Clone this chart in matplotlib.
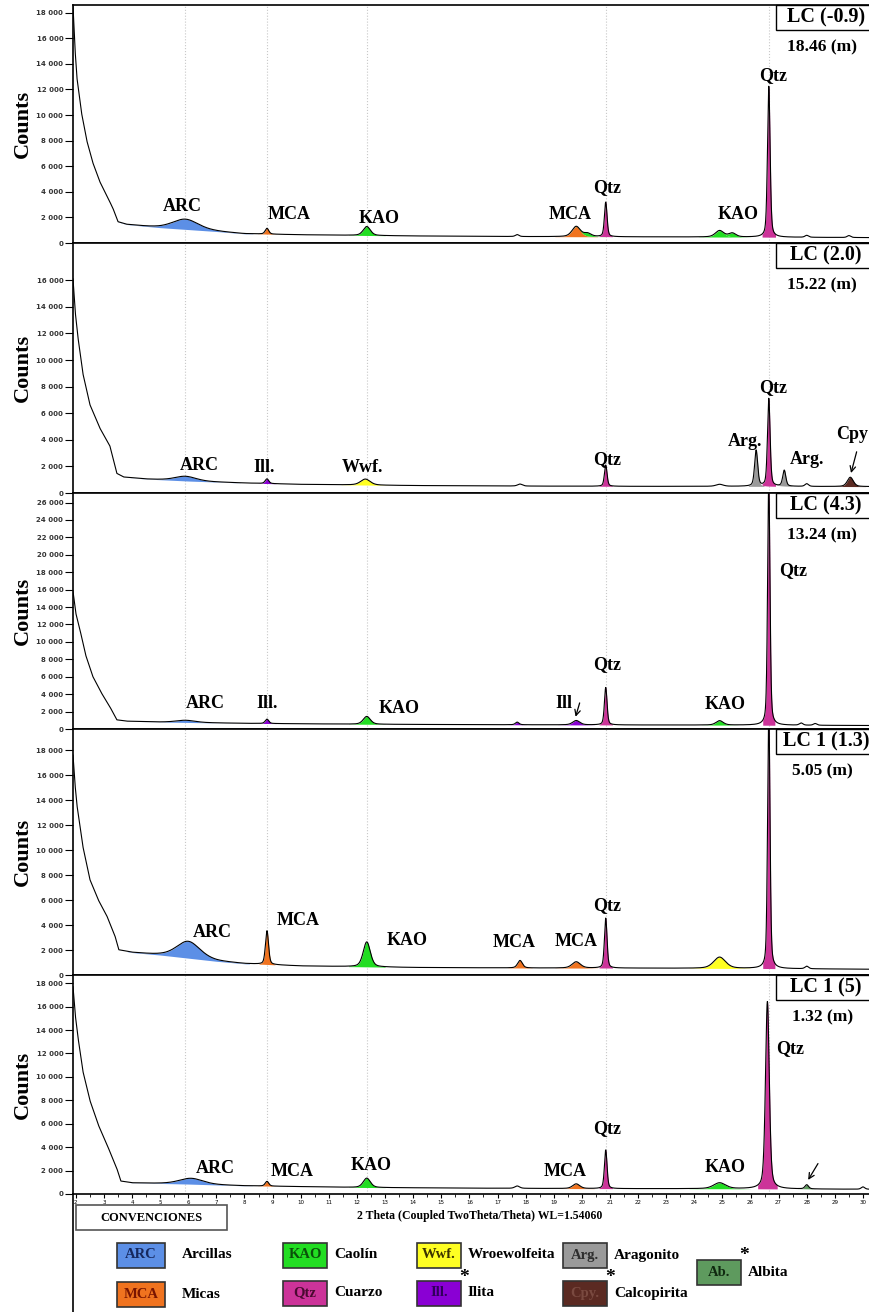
import numpy as np
import matplotlib.pyplot as plt
from matplotlib.patches import Rectangle
from matplotlib.lines import Line2D
from matplotlib.ticker import FuncFormatter, MultipleLocator

SERIF = "Liberation Serif"

# ---- data ----
samples = ["LC (-0.9)", "LC (2.0)", "LC (4.3)", "LC 1 (1.3)", "LC 1 (5)"]
depths = ["18.46 (m)", "15.22 (m)", "13.24 (m)", "5.05 (m)", "1.32 (m)"]
y_top = [18600, 18800, 27100, 19700, 18700]
y_tick_max = [18000, 16000, 26000, 18000, 18000]

# background (2theta, counts)
bg_x = [
    [1.9, 1.97, 2.04, 2.2, 2.39, 2.6, 2.85, 3.1, 3.32, 3.5, 3.8, 4.5, 5, 7, 8, 10, 14, 18, 22, 26, 30.3],
    [1.9, 1.98, 2.07, 2.25, 2.5, 2.85, 3.21, 3.46, 3.7, 4.5, 6, 8, 10, 14, 18, 22, 26, 30.3],
    [1.9, 2.0, 2.14, 2.35, 2.6, 2.9, 3.21, 3.46, 3.8, 5, 8, 12, 16, 20, 25, 30.3],
    [1.9, 1.97, 2.04, 2.25, 2.5, 2.8, 3.1, 3.39, 3.53, 4, 5, 7, 8, 10, 14, 18, 22, 26, 30.3],
    [1.9, 1.98, 2.07, 2.25, 2.5, 2.8, 3.1, 3.46, 3.6, 4, 6, 8, 12, 16, 20, 25, 30.3],
]
bg_y = [
    [18500, 15200, 12900, 10200, 8000, 6300, 4800, 3700, 2700, 1650, 1450, 1300, 1200, 900, 720, 640, 550, 500, 480, 460, 420],
    [16100, 13600, 11800, 9000, 6650, 4900, 3550, 1470, 1200, 1050, 900, 750, 650, 560, 520, 500, 500, 480],
    [15800, 13300, 11500, 8500, 6060, 4200, 2560, 1050, 900, 800, 650, 550, 500, 470, 450, 400],
    [17600, 15300, 13600, 10300, 7640, 6000, 4740, 3130, 2000, 1800, 1600, 1100, 900, 720, 600, 560, 550, 520, 460],
    [17700, 15300, 13500, 10500, 8000, 5900, 4260, 2170, 1100, 950, 850, 700, 560, 500, 460, 450, 400],
]

# peaks: centre (2theta), height above background, width, phase
peak_pos = [
    [5.9, 8.8, 12.35, 17.7, 19.8, 20.2, 20.85, 24.9, 25.35, 26.65, 28.0, 29.5],
    [5.9, 8.8, 12.3, 17.8, 20.85, 24.9, 26.2, 26.65, 27.2, 28.0, 29.55],
    [5.9, 8.8, 12.35, 17.7, 19.8, 20.85, 24.9, 26.65, 27.8, 28.3],
    [6.0, 8.8, 12.35, 17.8, 19.8, 20.85, 24.9, 26.65, 28.0],
    [6.1, 8.8, 12.35, 17.7, 19.8, 20.85, 24.9, 26.6, 28.0, 30.0],
]
peak_h = [
    [800, 450, 700, 150, 800, 250, 2700, 500, 300, 11800, 150, 150],
    [350, 350, 450, 150, 1600, 150, 2700, 6600, 1200, 200, 700],
    [250, 500, 900, 300, 500, 4300, 500, 28000, 250, 200],
    [1350, 2700, 2000, 600, 500, 4000, 900, 21000, 200],
    [500, 400, 800, 200, 400, 3300, 500, 16000, 350, 200],
]
peak_w = [
    [1.1, 0.15, 0.3, 0.15, 0.35, 0.3, 0.11, 0.35, 0.3, 0.11, 0.15, 0.15],
    [0.9, 0.15, 0.4, 0.2, 0.11, 0.3, 0.13, 0.11, 0.13, 0.15, 0.25],
    [0.8, 0.15, 0.3, 0.15, 0.3, 0.11, 0.3, 0.1, 0.15, 0.15],
    [1.0, 0.13, 0.3, 0.2, 0.35, 0.11, 0.5, 0.1, 0.15],
    [1.0, 0.15, 0.3, 0.2, 0.3, 0.11, 0.5, 0.16, 0.15, 0.15],
]
peak_phase = [
    ["ARC", "MCA", "KAO", "", "MCA", "KAO", "Qtz", "KAO", "KAO", "Qtz", "", ""],
    ["ARC", "Ill", "Wwf", "", "Qtz", "", "Arg", "Qtz", "Arg", "", "Cpy"],
    ["ARC", "Ill", "KAO", "Ill", "Ill", "Qtz", "KAO", "Qtz", "", ""],
    ["ARC", "MCA", "KAO", "MCA", "MCA", "Qtz", "Wwf", "Qtz", ""],
    ["ARC", "MCA", "KAO", "", "MCA", "Qtz", "KAO", "Qtz", "Ab", ""],
]

# peak labels: text, 2theta, counts
peak_labels = [
    [("ARC", 5.8, 2850), ("MCA", 9.6, 2200), ("KAO", 12.8, 1900), ("MCA", 19.6, 2200),
     ("Qtz", 20.9, 4300), ("KAO", 25.55, 2200), ("Qtz", 26.8, 13100)],
    [("ARC", 6.4, 2100), ("Ill.", 8.7, 1900), ("Wwf.", 12.2, 1900), ("Qtz", 20.9, 2500),
     ("Arg.", 25.8, 3900), ("Qtz", 26.8, 7900), ("Arg.", 28.0, 2500), ("Cpy", 29.62, 4400)],
    [("ARC", 6.6, 2900), ("Ill.", 8.8, 2900), ("KAO", 13.5, 2300), ("Ill", 19.35, 2900),
     ("Qtz", 20.9, 7400), ("KAO", 25.1, 2800), ("Qtz", 27.5, 18200)],
    [("ARC", 6.85, 3400), ("MCA", 9.9, 4400), ("KAO", 13.8, 2800), ("MCA", 17.6, 2600),
     ("MCA", 19.8, 2700), ("Qtz", 20.9, 5600)],
    [("ARC", 6.95, 2200), ("MCA", 9.7, 1900), ("KAO", 12.5, 2400), ("MCA", 19.4, 1900),
     ("Qtz", 20.9, 5600), ("KAO", 25.1, 2300), ("Qtz", 27.4, 12400)],
]
# arrows: panel, tail (2theta, counts), head (2theta, counts)
arrows = [(1, (29.8, 3300), (29.55, 1300)),
          (2, (19.95, 3300), (19.75, 1100)),
          (4, (28.45, 2800), (28.0, 1000))]

ref_lines = [5.9, 8.8, 12.35, 20.85, 26.65]

legend_items = [("ARC", "Arcillas"), ("MCA", "Micas"), ("KAO", "Caolín"), ("Qtz", "Cuarzo"),
                ("Wwf.", "Wroewolfeita"), ("Ill.", "Ilita"), ("Arg.", "Aragonito"),
                ("Cpy.", "Calcopirita"), ("Ab.", "Albita")]

colors = {"ARC": "#5c8fe6", "MCA": "#f0731f", "KAO": "#22dd22", "Wwf": "#ffff22",
          "Qtz": "#cc3399", "Ill": "#8a00d4", "Arg": "#9a9a9a", "Cpy": "#5b2a22",
          "Ab": "#5e9a5e"}
text_colors = {"ARC": "#16285e", "MCA": "#7a1500", "KAO": "#0a500a", "Wwf": "#3a3300",
               "Qtz": "#4a0a30", "Ill": "#30005a", "Arg": "#2e2e2e", "Cpy": "#7a4a40",
               "Ab": "#102a10"}

W, H = 870, 1312
fig = plt.figure(figsize=(W / 100, H / 100), dpi=100)

def fx(px):
    return px / W

def fy(py):
    return 1 - py / H

panels = [(5, 243), (243, 493), (493, 729), (729, 975), (975, 1194)]
left_px = 73

x = np.linspace(1.9, 30.3, 9000)

def profile(c, w):
    g = np.exp(-4 * np.log(2) * (x - c) ** 2 / w ** 2)
    l = 1 / (1 + ((x - c) / (w / 2)) ** 2)
    return 0.6 * g + 0.4 * l

axes = []
for i, (top, bot) in enumerate(panels):
    ax = fig.add_axes([fx(left_px), fy(bot), 1 - fx(left_px), (bot - top) / H])
    axes.append(ax)
    hpx = bot - top

    base = np.interp(x, bg_x[i], bg_y[i])
    running = base.copy()
    for c, h, w, m in zip(peak_pos[i], peak_h[i], peak_w[i], peak_phase[i]):
        p = h * profile(c, w)
        if m:
            ax.fill_between(x, running, running + p, where=p > 0.02 * h,
                            color=colors[m], lw=0, zorder=2)
        running = running + p
    ax.plot(x, running, color="black", lw=0.8, zorder=3)

    for r in ref_lines:
        ax.axvline(r, color="#c8c8c8", ls=":", lw=0.8, zorder=1)

    ax.set_xlim(1.9, 30.25)
    ax.set_ylim(0, y_top[i])
    ax.set_yticks(np.arange(0, y_tick_max[i] + 1, 2000))
    ax.yaxis.set_major_formatter(FuncFormatter(
        lambda v, pos: "0" if v == 0 else f"{int(v):,}".replace(",", " ")))
    ax.tick_params(axis="y", labelsize=5, length=6, width=0.8, pad=1)
    for t in ax.get_yticklabels():
        t.set_fontweight("bold")
        t.set_color("#333333")
    ax.spines["right"].set_visible(False)
    for s in ["left", "top", "bottom"]:
        ax.spines[s].set_linewidth(1.2)

    ax.set_ylabel("Counts", fontsize=16, fontweight="bold", family=SERIF)
    ax.yaxis.set_label_coords(-0.05, 0.5)

    # sample box
    bh = 25 / hpx
    ax.add_patch(Rectangle((fx(776 - left_px) / (1 - fx(left_px)), 1 - bh), 0.2, bh,
                           transform=ax.transAxes, fc="white", ec="black", lw=1,
                           clip_on=False, zorder=5))
    ax.text(0.945, 1 - bh / 2, samples[i], transform=ax.transAxes, ha="center",
            va="center", fontsize=14.5, fontweight="bold", family=SERIF, zorder=6)
    ax.text(0.94, 1 - 42 / hpx, depths[i], transform=ax.transAxes, ha="center",
            va="center", fontsize=12.5, fontweight="bold", family=SERIF, zorder=6)

    for s, lx, ly in peak_labels[i]:
        ax.text(lx, ly, s, ha="center", va="center", fontsize=13, fontweight="bold",
                family=SERIF, zorder=6, clip_on=False)

    if i < len(panels) - 1:
        ax.set_xticks([])
    else:
        ax.xaxis.set_major_locator(MultipleLocator(1))
        ax.xaxis.set_minor_locator(MultipleLocator(0.5))
        ax.set_xticks(range(2, 31))
        ax.tick_params(axis="x", labelsize=4, length=3, width=0.8, pad=1)
        ax.tick_params(axis="x", which="minor", length=2, width=0.6)

for pi, tail, head in arrows:
    axes[pi].annotate("", xy=head, xytext=tail,
                      arrowprops=dict(arrowstyle="->", lw=0.9, color="black"),
                      zorder=6)

# x label
fig.text(fx(480), fy(1216), "2 Theta (Coupled TwoTheta/Theta) WL=1.54060", ha="center",
         va="center", fontsize=8.5, fontweight="bold", family=SERIF)

# left line continuing into legend area
fig.add_artist(Line2D([fx(left_px), fx(left_px)], [0, fy(1194)], color="black", lw=1.2))

# legend
fig.add_artist(Rectangle((fx(76), fy(1230)), fx(151), 25 / H, transform=fig.transFigure,
                         fc="white", ec="#555555", lw=1.2))
fig.text(fx(151), fy(1218), "CONVENCIONES", ha="center", va="center", fontsize=9,
         fontweight="bold", family=SERIF)

slots = {"ARC": (117, 1255), "MCA": (117, 1294), "KAO": (283, 1255), "Qtz": (283, 1293),
         "Wwf.": (417, 1255), "Ill.": (417, 1293), "Arg.": (563, 1255),
         "Cpy.": (563, 1293), "Ab.": (697, 1272)}
starred = ["Ill.", "Cpy.", "Ab."]
for code, name in legend_items:
    key = code.rstrip(".")
    bx, by = slots[code]
    bw = 48 if key in ("ARC", "MCA") else 44
    fig.add_artist(Rectangle((fx(bx), fy(by + 12.5)), bw / W, 25 / H,
                             transform=fig.transFigure, fc=colors[key], ec="#333333",
                             lw=1.2))
    fig.text(fx(bx + bw / 2), fy(by), code, ha="center", va="center", fontsize=10.5,
             fontweight="bold", family=SERIF, color=text_colors[key])
    tx = bx + bw + (17 if key in ("ARC", "MCA") else 7)
    fig.text(fx(tx), fy(by), name, ha="left", va="center", fontsize=11,
             fontweight="bold", family=SERIF)
    if code in starred:
        fig.text(fx(bx + bw + 3), fy(by - 16), "*", ha="center", va="center",
                 fontsize=14, fontweight="bold", family=SERIF)

fig.savefig("out.png", dpi=100)
